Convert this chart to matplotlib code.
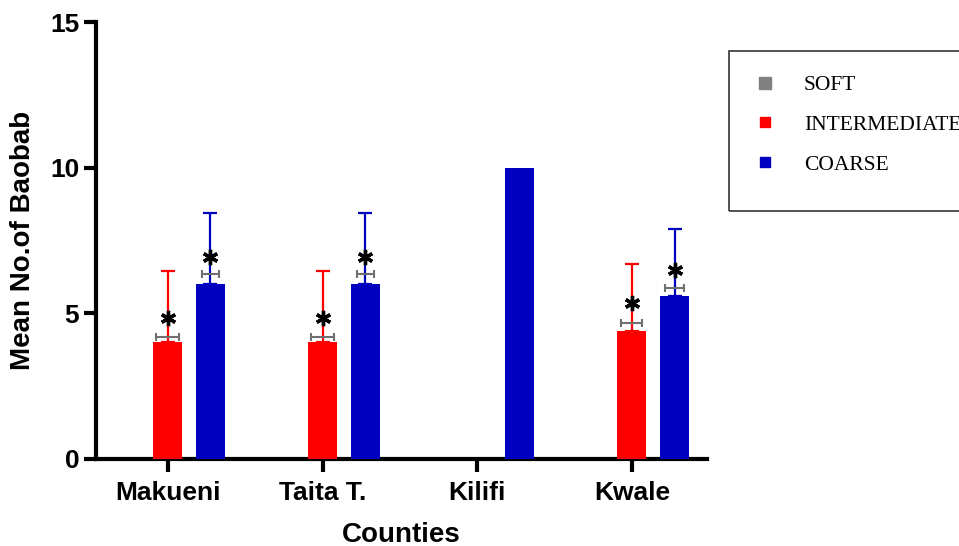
import numpy as np
import matplotlib.pyplot as plt
from matplotlib.lines import Line2D
from matplotlib.patches import Rectangle

counties = ['Makueni', 'Taita T.', 'Kilifi', 'Kwale']
soil_types = ['SOFT', 'INTERMEDIATE', 'COARSE']
soil_colors = ['#808080', '#FF0000', '#0000C0']

# mean number of baobab per soil type (nan = none recorded), upper SD
soft_mean = [np.nan, np.nan, np.nan, np.nan]
inter_mean = [4.0, 4.0, np.nan, 4.4]
inter_err = [2.45, 2.45, np.nan, 2.3]
coarse_mean = [6.0, 6.0, 10.0, 5.6]
coarse_err = [2.45, 2.45, np.nan, 2.3]

# small range brackets and significance stars drawn over the bars
inter_brk = [4.2, 4.2, np.nan, 4.67]
inter_brk_half = [0.074, 0.074, np.nan, 0.068]
inter_star = [4.84, 4.84, np.nan, 5.36]
coarse_brk = [6.35, 6.35, np.nan, 5.87]
coarse_brk_half = [0.055, 0.055, np.nan, 0.062]
coarse_star = [6.93, 6.93, np.nan, 6.49]

plt.rcParams['font.family'] = ['Liberation Sans', 'DejaVu Sans']

fig = plt.figure(figsize=(9.59, 5.46), dpi=100)
ax = fig.add_axes([96/959, 1-459/546, 611/959, 437/546])

x = np.arange(len(counties))
w = 0.1875
off = 0.275

ax.bar(x - off, soft_mean, w, color=soil_colors[0], zorder=3)
ax.bar(x, inter_mean, w, color=soil_colors[1], zorder=3)
ax.bar(x + off, coarse_mean, w, color=soil_colors[2], zorder=3)


def upper_err(xs, mean, err, color):
    mean = np.asarray(mean, float)
    err = np.asarray(err, float)
    ok = ~np.isnan(err)
    ax.errorbar(xs[ok], mean[ok], yerr=[np.zeros(ok.sum()), err[ok]], fmt='none', ecolor=color,
                elinewidth=1.6, capsize=5, capthick=1.6, zorder=2)


upper_err(x, inter_mean, inter_err, soil_colors[1])
upper_err(x + off, coarse_mean, coarse_err, soil_colors[2])

for xs, ys, hw in [(x, inter_brk, inter_brk_half), (x + off, coarse_brk, coarse_brk_half)]:
    _, caps, _ = ax.errorbar(xs, ys, xerr=hw, fmt='none', ecolor='#707070',
                             elinewidth=1.5, capsize=3, capthick=1.5, zorder=4)
    for c in caps:
        c.set_color('black')

ax.plot(x, inter_star, ls='none', marker=(6, 2, 0), ms=11, mew=2.4, color='black', zorder=5)
ax.plot(x + off, coarse_star, ls='none', marker=(6, 2, 0), ms=11, mew=2.4, color='black', zorder=5)

ax.set_xlim(-0.465, 3.485)
ax.set_ylim(0, 15)
ax.set_yticks([0, 5, 10, 15])
ax.set_xticks(x)
ax.set_xticklabels(counties)

for s in ['top', 'right']:
    ax.spines[s].set_visible(False)
for s in ['left', 'bottom']:
    ax.spines[s].set_linewidth(3)
ax.tick_params(axis='both', width=3, length=9, labelsize=19)
ax.tick_params(axis='x', pad=7)
ax.tick_params(axis='y', pad=3)
for lab in ax.get_xticklabels() + ax.get_yticklabels():
    lab.set_fontweight('bold')

ax.set_xlabel('Counties', fontsize=20, fontweight='bold', labelpad=12)
ax.set_ylabel('Mean No.of Baobab', fontsize=20, fontweight='bold', labelpad=10)

# legend with a frame that runs past the right edge
fig.patches.append(Rectangle((729/959, 1-211/546), 300/959, 160/546, transform=fig.transFigure,
                             fill=False, edgecolor='#333333', lw=1.2))
handles = [Line2D([], [], ls='none', marker='s', color=c, ms=m)
           for c, m in zip(soil_colors, [8.6, 7.5, 7.5])]
fig.legend(handles, soil_types, loc='upper left', bbox_to_anchor=(754.5/959, 1-75/546),
           frameon=False, borderpad=0, borderaxespad=0, handlelength=1.0, handletextpad=1.3,
           labelspacing=0.92, prop={'family': 'Liberation Serif', 'size': 15.5})

fig.savefig('out.png', dpi=100)
